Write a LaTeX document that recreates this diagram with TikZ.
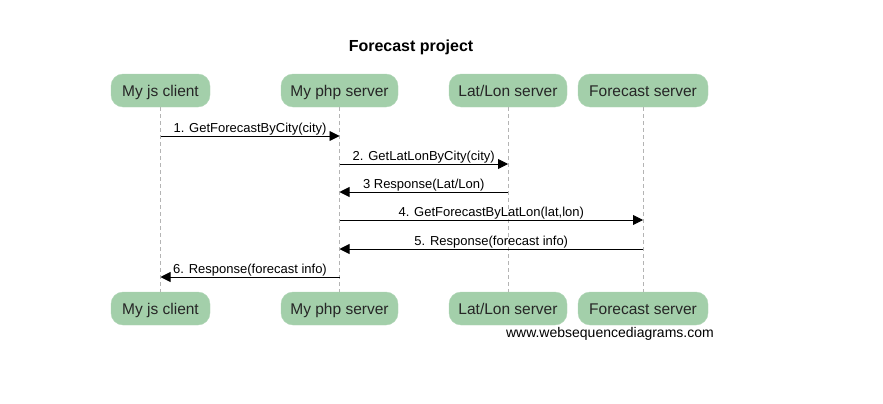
\documentclass[tikz,border=0pt]{standalone}
\usepackage{fontspec}
\setmainfont{Liberation Sans}
\usetikzlibrary{arrows.meta}
\definecolor{boxgreen}{RGB}{163,207,170}
\definecolor{lifegrey}{RGB}{180,180,180}
\tikzset{
  actor/.style={fill=boxgreen, draw=boxgreen!85!white, rounded corners=12pt, minimum height=33pt, inner sep=0pt, text height=13pt, text depth=2pt, font=\fontsize{15.5}{19}\selectfont, text=black!85},
  lifeline/.style={draw=lifegrey, dashed, dash pattern=on 4pt off 3pt, line width=0.8pt},
  msg/.style={draw=black, line width=0.9pt, -{Triangle[length=10pt,width=10pt]}},
  lbl/.style={above, inner sep=0.5pt, text height=9.5pt, text depth=2.5pt, font=\fontsize{13}{15}\selectfont}
}
\begin{document}
\begin{tikzpicture}[x=1pt,y=-1pt]
\useasboundingbox (0,0) rectangle (883,404);
\node[font=\bfseries\fontsize{16}{19}\selectfont] (title) at (411,47) {Forecast project};
% top actors
\node[actor, minimum width=99pt] (jsT) at (160.5,90.5) {My js client};
\node[actor, minimum width=117pt] (phpT) at (339.5,90.5) {My php server};
\node[actor, minimum width=118pt] (llT) at (508,90.5) {Lat/Lon server};
\node[actor, minimum width=130pt] (fcT) at (643,90.5) {Forecast server};
% bottom actors
\node[actor, minimum width=99pt] (jsB) at (160.5,308.5) {My js client};
\node[actor, minimum width=117pt] (phpB) at (339.5,308.5) {My php server};
\node[actor, minimum width=118pt] (llB) at (508,308.5) {Lat/Lon server};
\node[actor, minimum width=130pt] (fcB) at (643,308.5) {Forecast server};
% lifelines
\draw[lifeline] (jsT.south) -- (jsB.north);
\draw[lifeline] (phpT.south) -- (phpB.north);
\draw[lifeline] (llT.south) -- (llB.north);
\draw[lifeline] (fcT.south) -- (fcB.north);
% message anchor coordinates
\coordinate (js1) at (jsT.south |- 0,136);
\coordinate (php1) at (phpT.south |- 0,136);
\coordinate (php2) at (phpT.south |- 0,164);
\coordinate (ll2) at (llT.south |- 0,164);
\coordinate (ll3) at (llT.south |- 0,192);
\coordinate (php3) at (phpT.south |- 0,192);
\coordinate (php4) at (phpT.south |- 0,220);
\coordinate (fc4) at (fcT.south |- 0,220);
\coordinate (fc5) at (fcT.south |- 0,249);
\coordinate (php5) at (phpT.south |- 0,249);
\coordinate (php6) at (phpT.south |- 0,277);
\coordinate (js6) at (jsT.south |- 0,277);
% messages
\draw[msg] (js1) -- node[lbl] {1. GetForecastByCity(city)} (php1);
\draw[msg] (php2) -- node[lbl] {2. GetLatLonByCity(city)} (ll2);
\draw[msg] (ll3) -- node[lbl] {3 Response(Lat/Lon)} (php3);
\draw[msg] (php4) -- node[lbl] {4. GetForecastByLatLon(lat,lon)} (fc4);
\draw[msg] (fc5) -- node[lbl] {5. Response(forecast info)} (php5);
\draw[msg] (php6) -- node[lbl] {6. Response(forecast info)} (js6);
% watermark
\node[anchor=east, inner sep=0pt, font=\fontsize{14}{16}\selectfont] (wm) at (714,334) {www.websequencediagrams.com};
\end{tikzpicture}
\end{document}
